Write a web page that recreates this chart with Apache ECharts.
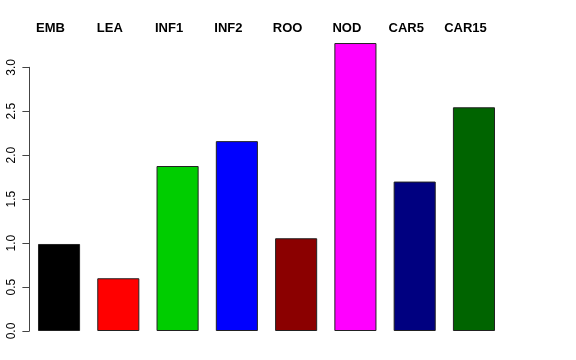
<!DOCTYPE html>
<html>
<head>
<meta charset="utf-8">
<script src="https://cdn.jsdelivr.net/npm/echarts@6/dist/echarts.min.js"></script>
<style>html,body{margin:0;padding:0;background:#fff}#c{width:576px;height:360px}</style>
</head>
<body>
<div id="c"></div>
<script>
var categories = ["EMB", "LEA", "INF1", "INF2", "ROO", "NOD", "CAR5", "CAR15"];
var values = [0.99, 0.60, 1.877, 2.16, 1.055, 3.276, 1.70, 2.545];
var barColors = ["#000000", "#FF0000", "#00CD00", "#0000FF", "#8B0000", "#FF00FF", "#000080", "#006400"];
var yTicks = [0, 0.5, 1.0, 1.5, 2.0, 2.5, 3.0];

var chart = echarts.init(document.getElementById('c'), null, {renderer: 'canvas'});
chart.setOption({
  animation: false,
  backgroundColor: '#ffffff',
  grid: {left: 29.4, right: 72.4, top: 67.3, bottom: 29, containLabel: false},
  xAxis: {
    type: 'category',
    data: categories,
    position: 'top',
    axisLine: {show: false},
    axisTick: {show: false},
    splitLine: {show: false},
    axisLabel: {
      margin: 32,
      fontFamily: 'Liberation Sans, Arial, sans-serif',
      fontWeight: 'bold',
      fontSize: 13,
      color: '#000',
      padding: [0, 17, 0, 0],
      interval: 0
    }
  },
  yAxis: {
    type: 'value',
    min: yTicks[0],
    max: yTicks[yTicks.length - 1],
    interval: 0.5,
    axisLine: {show: true, lineStyle: {color: '#444', width: 1}},
    axisTick: {show: true, length: 7, lineStyle: {color: '#444', width: 1}},
    splitLine: {show: false},
    axisLabel: {
      rotate: 90,
      margin: 12,
      fontFamily: 'Liberation Sans, Arial, sans-serif',
      fontSize: 12,
      color: '#000',
      formatter: function (v) { return v.toFixed(1); }
    }
  },
  series: [{
    type: 'bar',
    clip: false,
    barCategoryGap: '29%',
    data: values.map(function (v, i) {
      return {value: v, itemStyle: {color: barColors[i]}};
    }),
    itemStyle: {borderColor: '#222', borderWidth: 1}
  }]
});
</script>
</body>
</html>
